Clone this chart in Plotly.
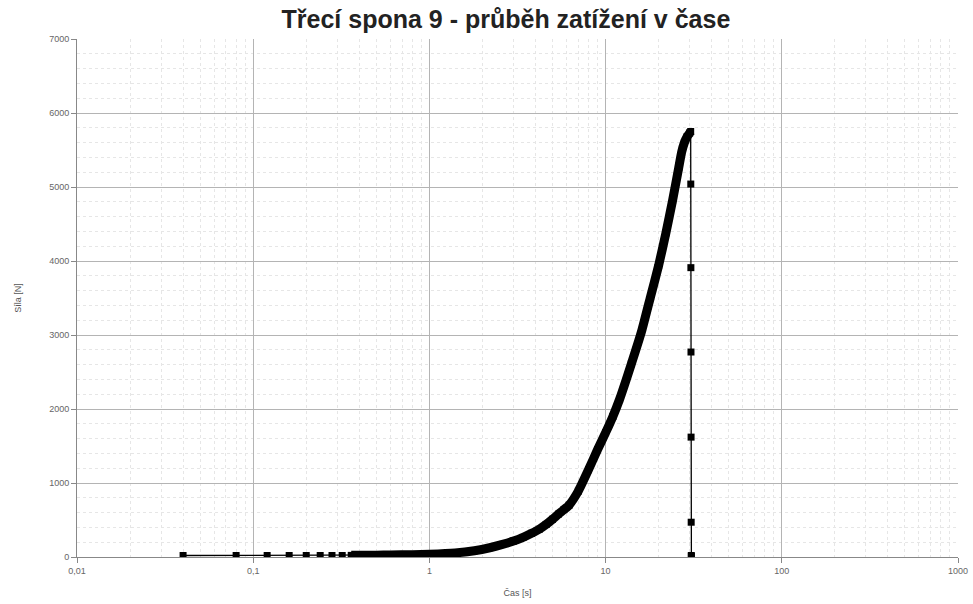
import plotly.graph_objects as go

# Load test record: time [s] and force [N]
cas = [0.04, 0.08, 0.12, 0.16, 0.20, 0.24, 0.28, 0.32, 0.36, 0.40,
       0.5, 0.6, 0.8, 1.0, 1.4, 1.8, 2.2, 2.6, 3.0, 3.4, 3.8, 4.2, 4.6,
       5.0, 5.4, 5.8, 6.2, 7.0, 8.0, 9.0, 10.0, 11.0, 12.0, 14.0, 16.0,
       18.0, 20.0, 22.0, 24.0, 26.0, 27.0, 28.0, 29.0, 30.0, 30.4,
       30.44, 30.48, 30.52, 30.56, 30.60, 30.64, 30.68]
sila = [20, 20, 20, 20, 20, 20, 20, 20, 22, 22,
        25, 28, 32, 38, 55, 85, 125, 170, 215, 265, 320, 375, 440,
        510, 580, 640, 700, 890, 1180, 1450, 1680, 1900, 2130, 2610, 3050,
        3520, 3940, 4380, 4820, 5260, 5470, 5600, 5680, 5730, 5750,
        5040, 3910, 2770, 1620, 470, 20, 10]

# Indices of the densely sampled loading branch (markers merge into a band)
i_band_start = cas.index(0.36)
i_peak = sila.index(max(sila))

x_ticks = [0.01, 0.1, 1, 10, 100, 1000]
x_ticktext = ["0,01", "0,1", "1", "10", "100", "1000"]
y_ticks = [0, 1000, 2000, 3000, 4000, 5000, 6000, 7000]

x_minor = [m * 10 ** e for e in range(-2, 3) for m in range(2, 10)]
y_minor = [v for v in range(0, 7001, 200) if v % 1000 != 0]

fig = go.Figure()

# Dense loading band
fig.add_trace(go.Scatter(
    x=cas[i_band_start:i_peak + 1], y=sila[i_band_start:i_peak + 1],
    mode="lines", line=dict(color="black", width=9, shape="spline", smoothing=0.5),
    hoverinfo="skip", showlegend=False,
))

# All samples: thin connecting line with square markers
fig.add_trace(go.Scatter(
    x=cas, y=sila, mode="lines+markers",
    line=dict(color="black", width=1.3),
    marker=dict(symbol="square", size=7, color="black"),
    showlegend=False,
))

grid_major = "#b4b4b4"
grid_minor = "#e6e6e6"
tick_font = dict(family="Liberation Sans, Arial, sans-serif", size=9, color="#666")
label_font = dict(family="Liberation Sans, Arial, sans-serif", size=9, color="#555")

fig.update_layout(
    width=973, height=604,
    margin=dict(l=77, r=15, t=39, b=47, autoexpand=False),
    paper_bgcolor="white", plot_bgcolor="white",
    title=dict(
        text="<b>Třecí spona 9 - průběh zatížení v čase</b>",
        x=0.52, xanchor="center", y=0.968, yanchor="middle",
        font=dict(family="Liberation Sans, Arial, sans-serif", size=25, color="#222"),
    ),
    xaxis=dict(
        type="log", range=[-2, 3], automargin=False,
        tickmode="array", tickvals=x_ticks, ticktext=x_ticktext,
        tickfont=tick_font, ticks="outside", ticklen=5, tickcolor="#888",
        showgrid=True, gridcolor=grid_major, gridwidth=1,
        showline=True, linecolor="#888", linewidth=1,
        zeroline=False,
        minor=dict(tickmode="array", tickvals=x_minor, ticks="",
                   showgrid=True, gridcolor=grid_minor, griddash="dot"),
        title=dict(text="Čas [s]", font=label_font, standoff=14),
    ),
    yaxis=dict(
        range=[0, 7000], automargin=False,
        tickmode="array", tickvals=y_ticks,
        tickfont=tick_font, ticks="outside", ticklen=5, tickcolor="#888",
        showgrid=True, gridcolor=grid_major, gridwidth=1,
        showline=True, linecolor="#888", linewidth=1,
        zeroline=False,
        minor=dict(tickmode="array", tickvals=y_minor, ticks="",
                   showgrid=True, gridcolor=grid_minor, griddash="dot"),
        title=dict(text="Síla [N]", font=label_font, standoff=26),
    ),
)

fig.write_html("out.html")
